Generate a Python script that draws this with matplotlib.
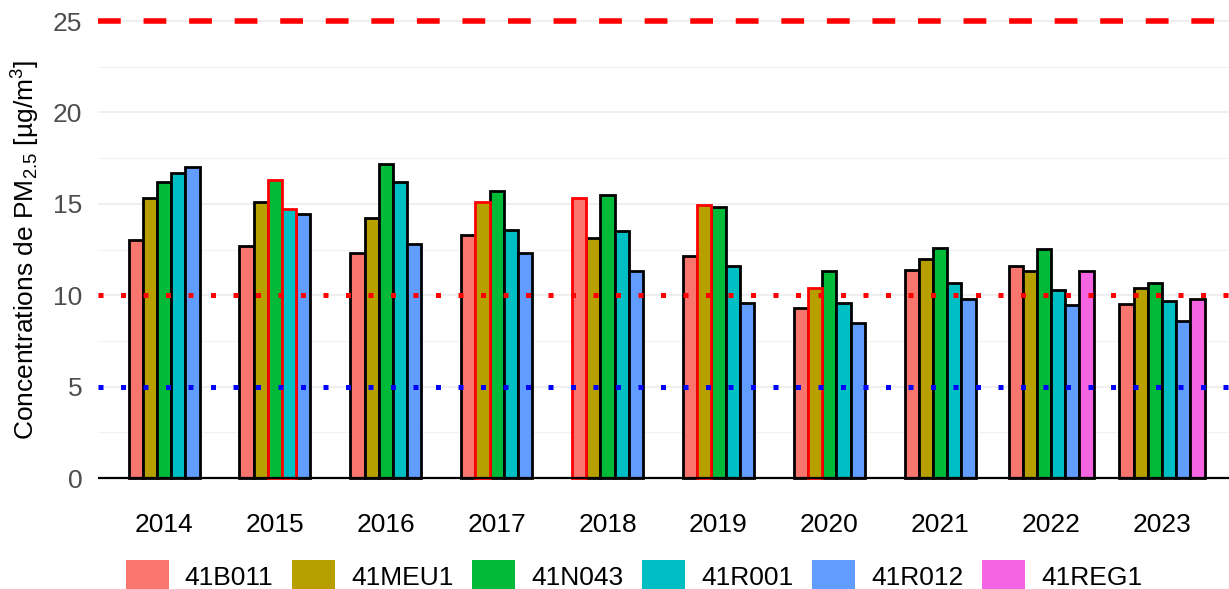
import numpy as np
import matplotlib
matplotlib.use("Agg")
import matplotlib.pyplot as plt
from matplotlib.patches import Patch

plt.rcParams['font.family'] = ['Liberation Sans', 'DejaVu Sans']
plt.rcParams['mathtext.fontset'] = 'custom'
plt.rcParams['mathtext.rm'] = 'Liberation Sans'

years = ["2014", "2015", "2016", "2017", "2018", "2019", "2020", "2021", "2022", "2023"]
stations = ["41B011", "41MEU1", "41N043", "41R001", "41R012", "41REG1"]
colors = ["#F8766D", "#B79F00", "#00BA38", "#00BFC4", "#619CFF", "#F564E3"]

nan = np.nan
v_41B011 = [13.0, 12.7, 12.3, 13.3, 15.3, 12.15, 9.3, 11.4, 11.6, 9.5]
v_41MEU1 = [15.3, 15.1, 14.2, 15.1, 13.15, 14.95, 10.4, 12.0, 11.3, 10.4]
v_41N043 = [16.2, 16.3, 17.2, 15.7, 15.5, 14.85, 11.3, 12.6, 12.55, 10.65]
v_41R001 = [16.7, 14.7, 16.2, 13.55, 13.5, 11.6, 9.6, 10.65, 10.3, 9.7]
v_41R012 = [17.0, 14.45, 12.8, 12.3, 11.3, 9.6, 8.5, 9.8, 9.45, 8.6]
v_41REG1 = [nan, nan, nan, nan, nan, nan, nan, nan, 11.3, 9.8]
values = [v_41B011, v_41MEU1, v_41N043, v_41R001, v_41R012, v_41REG1]

# bars outlined in red (flagged values): (station, year)
flagged = [("41N043", "2015"), ("41R001", "2015"), ("41MEU1", "2017"),
           ("41B011", "2018"), ("41MEU1", "2019"), ("41MEU1", "2020")]

limit_who_old = 25
limit_eu = 10
limit_who = 5

W, H = 1229, 589
fig = plt.figure(figsize=(W / 100, H / 100), dpi=100)
ax_left, ax_right = 97.5, 1228.5
ax_top, ax_bot = 0.0, 500.85
ax = fig.add_axes([ax_left / W, 1 - ax_bot / H, (ax_right - ax_left) / W, (ax_bot - ax_top) / H])

bw = 0.128
for yi, yr in enumerate(years):
    present = [si for si in range(len(stations)) if not np.isnan(values[si][yi])]
    n = len(present)
    for k, si in enumerate(present):
        x = yi + (k - (n - 1) / 2) * bw
        is_flag = (stations[si], yr) in flagged
        ax.bar(x, values[si][yi], width=bw, color=colors[si],
               edgecolor="red" if is_flag else "black",
               linewidth=2.0, zorder=4 if is_flag else 3)

# grid
for g in [0, 5, 10, 15, 20, 25]:
    ax.axhline(g, color="#EBEBEB", lw=1.1, zorder=1)
for g in [2.5, 7.5, 12.5, 17.5, 22.5]:
    ax.axhline(g, color="#F2F2F2", lw=0.8, zorder=1)

ax.axhline(0, color="black", lw=1.6, zorder=5)
ax.axhline(limit_who_old, color="#FF0000", lw=4, linestyle=(0, (4.1, 4.1)), zorder=6)
ax.axhline(limit_eu, color="#FF0000", lw=3.6, linestyle=(0, (1, 3.5)), zorder=6)
ax.axhline(limit_who, color="#0000FF", lw=3.6, linestyle=(0, (1, 3.5)), zorder=6)

ax.set_xlim(-0.6, len(years) - 0.4)
ax.set_ylim(-1.25, 26.15)
ax.set_xticks(range(len(years)))
ax.set_xticklabels(years, fontsize=19, color="black")
ax.set_yticks([0, 5, 10, 15, 20, 25])
ax.set_yticklabels(["0", "5", "10", "15", "20", "25"], fontsize=19, color="#4D4D4D")
ax.tick_params(axis="both", length=0)
ax.tick_params(axis="x", pad=9)
ax.tick_params(axis="y", pad=11)
for s in ax.spines.values():
    s.set_visible(False)

ax.set_ylabel(r"Concentrations de PM$\mathregular{_{2.5}}$ [µg/m$\mathregular{^3}$]", fontsize=19)
ax.yaxis.set_label_coords(-0.049, 0.5)

handles = [Patch(facecolor=c, edgecolor="none") for c in colors]
fig.legend(handles, stations, loc="lower center", bbox_to_anchor=(634 / W, -0.005),
           ncol=6, frameon=False, fontsize=19, handlelength=1.63, handleheight=1.48,
           handletextpad=0.6, columnspacing=0.72, borderpad=0.0, borderaxespad=0.0)

fig.savefig("out.png", dpi=100)
